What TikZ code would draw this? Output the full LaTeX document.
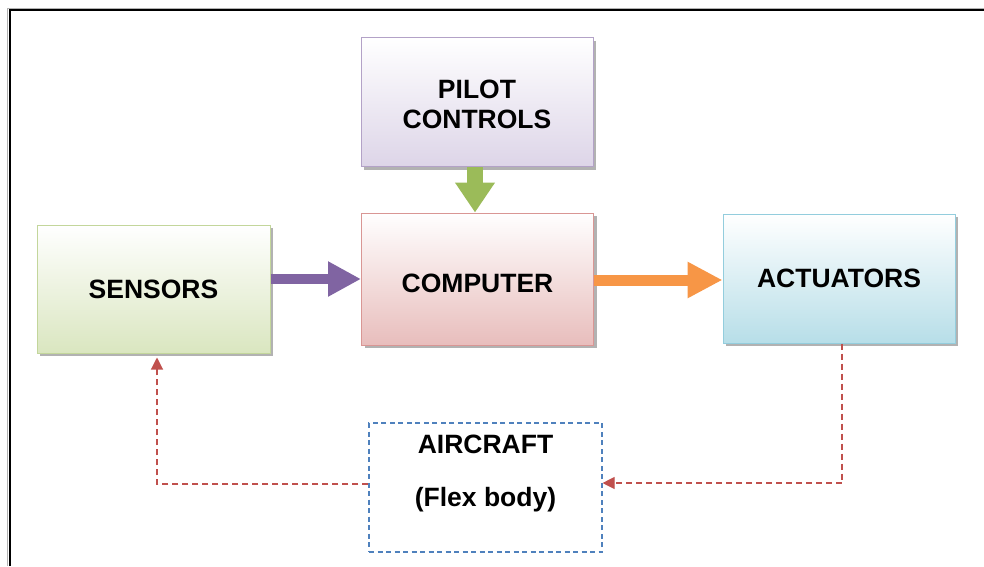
\documentclass[tikz,border=0pt]{standalone}
\usepackage{fontspec}
\setmainfont{Liberation Sans}
\usetikzlibrary{arrows.meta,shadows}

% block colours
\definecolor{pilotB}{HTML}{B3A2C7}
\definecolor{pilotF}{HTML}{DDD5E8}
\definecolor{compB}{HTML}{D99694}
\definecolor{compF}{HTML}{E8BDBC}
\definecolor{sensB}{HTML}{C3D69B}
\definecolor{sensF}{HTML}{DAE6C0}
\definecolor{actB}{HTML}{93CDDD}
\definecolor{actF}{HTML}{B7DEE8}
% connector colours
\definecolor{arrGreen}{HTML}{9BBB59}
\definecolor{arrPurple}{HTML}{8064A2}
\definecolor{arrOrange}{HTML}{F79646}
\definecolor{fbRed}{HTML}{C0504D}
\definecolor{dashBlue}{HTML}{4F81BD}

\tikzset{
  blk/.style={draw, line width=1pt, minimum width=232pt, minimum height=129pt,
    align=center, inner sep=0pt,
    font=\fontsize{26.5}{30}\selectfont\bfseries,
    drop shadow={shadow xshift=3pt, shadow yshift=-3pt, fill=black, opacity=0.3}},
  pilotbox/.style={blk, draw=pilotB, top color=white, bottom color=pilotF},
  compbox/.style={blk, draw=compB, top color=white, bottom color=compF, minimum height=132pt},
  sensbox/.style={blk, draw=sensB, top color=white, bottom color=sensF, minimum width=233pt, minimum height=128pt},
  actbox/.style={blk, draw=actB, top color=white, bottom color=actF},
  airbox/.style={draw=dashBlue, line width=1.1pt, dash pattern=on 5pt off 3.5pt,
    minimum width=233pt, minimum height=129pt, inner sep=0pt},
  lbl/.style={align=center, inner sep=0pt, font=\fontsize{26.5}{30}\selectfont\bfseries},
  fb/.style={draw=fbRed, line width=1.1pt, dash pattern=on 6pt off 4pt,
    -{Triangle[length=12pt,width=12pt,fill=fbRed]}},
}

\begin{document}
\begin{tikzpicture}[x=1pt,y=-1pt]
\useasboundingbox (0,0) rectangle (984,566);

% outer frame (top and left edges)
\draw[gray!60, line width=1pt] (7.5,566) -- (7.5,8) -- (984,8);
\draw[black, line width=2pt] (10,566) -- (10,10) -- (984,10);

% blocks
\node[pilotbox] (pilot) at (477,102)
  {\raisebox{-12pt}[0pt][0pt]{\begin{tabular}{@{}c@{}}PILOT\\CONTROLS\end{tabular}}};
\node[compbox]  (comp)  at (477.5,279) {\raisebox{-13.5pt}[0pt][0pt]{COMPUTER}};
\node[sensbox]  (sens)  at (153.5,289) {SENSORS};
\node[actbox]   (act)   at (839,278.5) {ACTUATORS};
\node[airbox]   (air)   at (485.5,487.5) {};
\node[lbl]      (airtxt) at (485.5,473) {AIRCRAFT\\[23pt](Flex body)};

% signal arrows
\draw[arrGreen, line width=16pt, -{Triangle[length=30pt,width=38pt]}]
  ([xshift=-2pt]pilot.south) -- ([xshift=-2pt]pilot.south |- comp.north);
\draw[arrPurple, line width=10pt, -{Triangle[length=33pt,width=33pt]}]
  (sens.east |- comp.west) -- (comp.west);
\draw[arrOrange, line width=11pt, -{Triangle[length=35pt,width=34pt]}]
  ([yshift=-1pt]comp.east) -- ([yshift=-1pt]comp.east -| act.west);

% feedback loop through the airframe
\draw[fb] ([xshift=3pt]act.south) |- ([yshift=4.5pt]air.east);
\draw[fb] ([yshift=3.5pt]air.west) -| ([xshift=3.5pt,yshift=-4pt]sens.south);
\end{tikzpicture}
\end{document}
